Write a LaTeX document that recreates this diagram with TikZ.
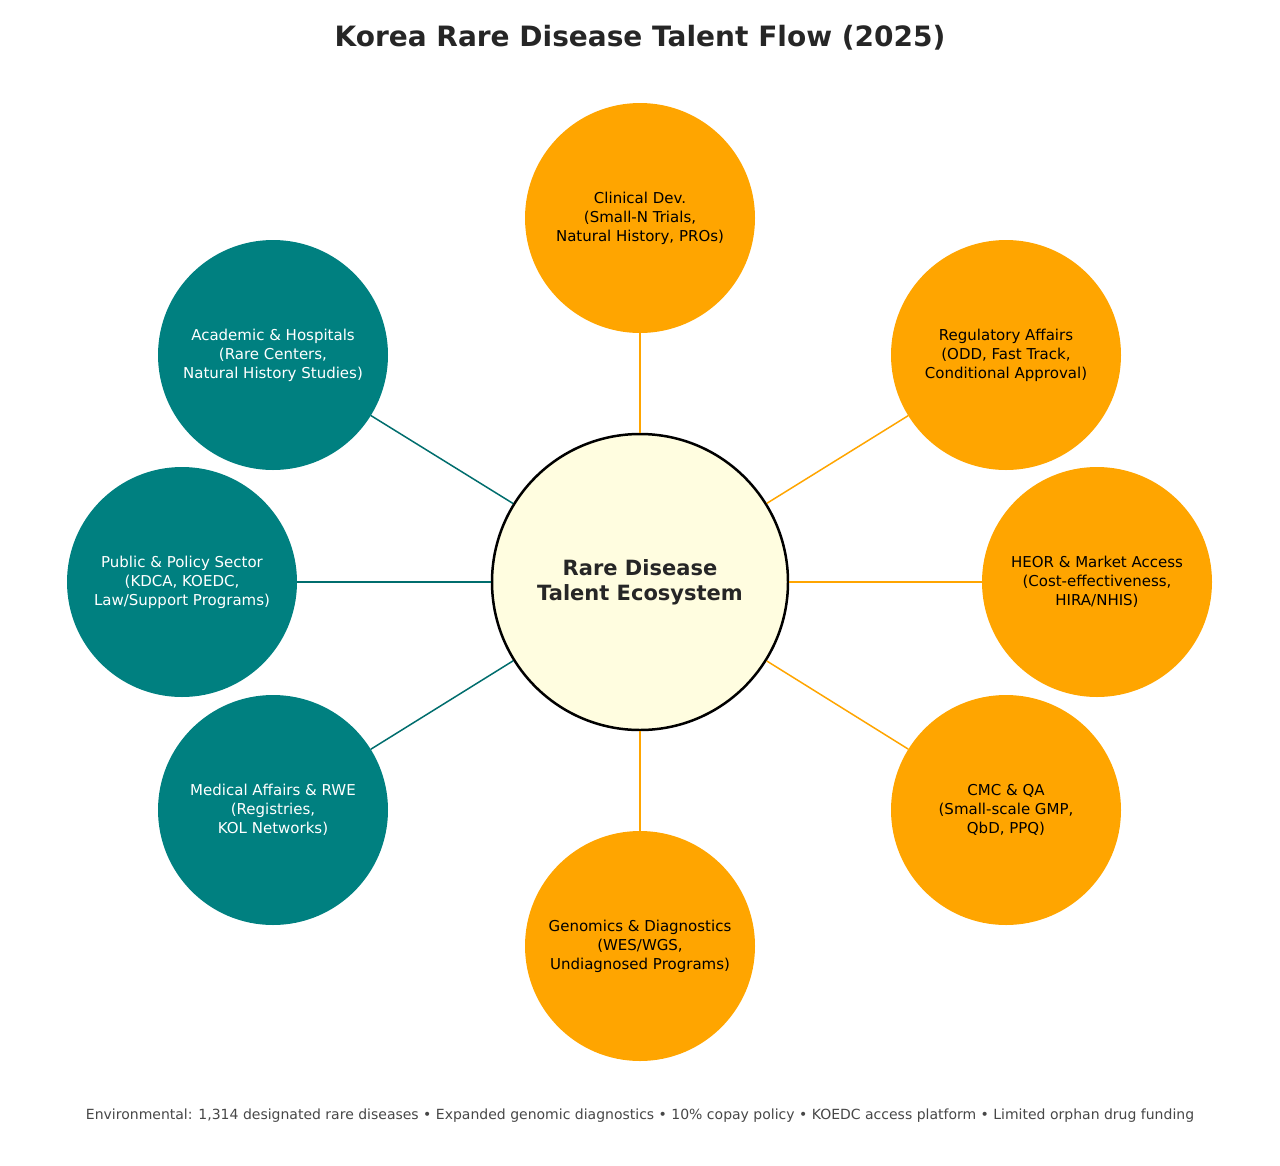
\documentclass[tikz,border=0pt]{standalone}
\usepackage{fontspec}
\setmainfont{DejaVu Sans}
\definecolor{teal1}{HTML}{008080}
\definecolor{orng}{HTML}{FFA500}
\definecolor{cyel}{HTML}{FFFDE0}
\definecolor{tgray}{HTML}{262626}
\begin{document}
\begin{tikzpicture}[x=1pt,y=-1pt,
  sat/.style={circle,minimum size=230pt,inner sep=0pt,align=center,font=\fontsize{15}{19}\selectfont},
  tsat/.style={sat,fill=teal1,text=white},
  osat/.style={sat,fill=orng,text=black},
  tl/.style={draw=teal1!85!black,line width=1.5pt},
  ol/.style={draw=orng,line width=1.5pt}]
\useasboundingbox (0,0) rectangle (1280,1165);
\node[font=\fontsize{28}{32}\selectfont\bfseries,text=tgray] (title) at (640,38) {Korea Rare Disease Talent Flow (2025)};
\node[circle,minimum size=296pt,draw=black,line width=2.5pt,fill=cyel,align=center,text=tgray,font=\fontsize{21}{25}\selectfont\bfseries] (c) at (640,582) {Rare Disease\\Talent Ecosystem};
\node[osat] (cd) at (640,218) {Clinical Dev.\\(Small-N Trials,\\Natural History, PROs)};
\node[osat] (ra) at (1006,355) {Regulatory Affairs\\(ODD, Fast Track,\\Conditional Approval)};
\node[osat] (he) at (1097,582) {HEOR \& Market Access\\(Cost-effectiveness,\\HIRA/NHIS)};
\node[osat] (cm) at (1006,810) {CMC \& QA\\(Small-scale GMP,\\QbD, PPQ)};
\node[osat] (ge) at (640,946) {Genomics \& Diagnostics\\(WES/WGS,\\Undiagnosed Programs)};
\node[tsat] (ac) at (273,355) {Academic \& Hospitals\\(Rare Centers,\\Natural History Studies)};
\node[tsat] (pu) at (182,582) {Public \& Policy Sector\\(KDCA, KOEDC,\\Law/Support Programs)};
\node[tsat] (me) at (273,810) {Medical Affairs \& RWE\\(Registries,\\KOL Networks)};
\foreach \n in {cd,ra,he,cm,ge} \draw[ol] (c) -- (\n);
\foreach \n in {ac,pu,me} \draw[tl] (c) -- (\n);
\node[font=\fontsize{14}{17}\selectfont,text=tgray!85] (foot) at (640,1116) {Environmental: 1,314 designated rare diseases • Expanded genomic diagnostics • 10\% copay policy • KOEDC access platform • Limited orphan drug funding};
\end{tikzpicture}
\end{document}
